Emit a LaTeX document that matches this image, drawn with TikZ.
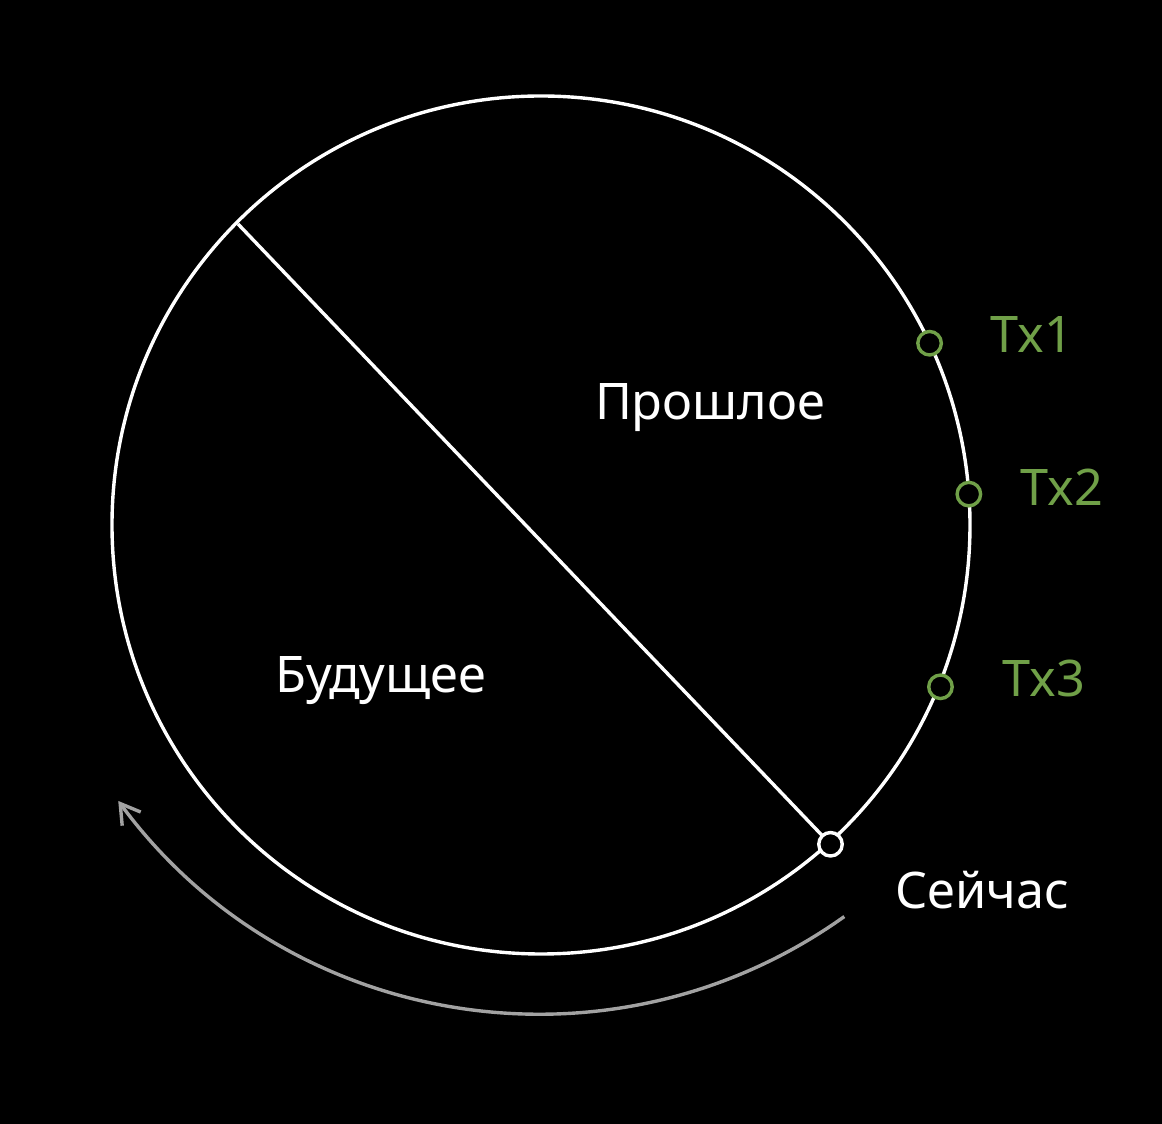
\documentclass[tikz,border=0pt]{standalone}
\usepackage{fontspec}
\setmainfont{Noto Sans}
\usetikzlibrary{arrows.meta}
\definecolor{txGreen}{RGB}{112,160,72}
\definecolor{arrowGrey}{RGB}{162,162,162}
\newcommand{\myClock}{%%
  %% Draw the circle.
  \draw[lineStyle] (centre) circle[radius=\radius];
  %% Split the circle into past and future.
  \draw[lineStyle] (split) -- (now);
  %% Label the two halves.
  \node[textStyle] (past) at (169,105) {Прошлое};
  \node[textStyle] (future) at (-160,-168) {Будущее};
}
\newcommand{\myTransactions}{%%
  %% Mark the transactions on the circle.
  %% Tx1
  \node[txStyle] (tx1) at (25.07:\radius) {};
  \node[textStyle,anchor=base west,txGreen] (tx1label) at (449,172) {Tx1};
  %% Tx2
  \node[txStyle] (tx2) at (4.13:\radius) {};
  \node[textStyle,anchor=base west,txGreen] (tx2label) at (479,19) {Tx2};
  %% Tx3
  \node[txStyle] (tx3) at (-22.05:431) {};
  \node[textStyle,anchor=base west,txGreen] (tx3label) at (461,-172) {Tx3};
  %% Now
  \node[nodeStyle] (nowdot) at (now) {};
  \node[textStyle,anchor=base west] (nowlabel) at (354,-383) {Сейчас};
}

\begin{document}
\begin{tikzpicture}[%%
  x=0.02cm,y=0.02cm,
  lineStyle/.style={-,white,line width=0.068cm},%%
  nodeStyle/.style={draw=white,line width=0.068cm,circle,fill=black,inner sep=0pt,minimum size=0.47cm},%%
  txStyle/.style={nodeStyle,draw=txGreen},%%
  textStyle/.style={white,inner sep=0pt,anchor=base,font=\fontsize{28.7}{34}\selectfont},%%
  arrowStyle/.style={arrowGrey,line width=0.068cm,-{Straight Barb[length=0.38cm,width=0.46cm]}}
]
%%
%% Background and margins.
\fill[black] (-541,-599) rectangle (621,525);
\useasboundingbox (-541,-599) rectangle (621,525);
%%
\pgfmathsetmacro{\radius}{429}
\coordinate (centre) at (0,0);
\coordinate (split) at (-303,301);
\coordinate (now) at (-47.8:431);
\coordinate (arcCentre) at (-1,35);
%%
%% Draw the clock with its transactions.
\myClock
\myTransactions
%%
%% Direction of time.
\draw[arrowStyle] (arcCentre) ++(-54.5:524) arc[start angle=-54.5,end angle=-143.6,radius=524];
\end{tikzpicture}
\end{document}
